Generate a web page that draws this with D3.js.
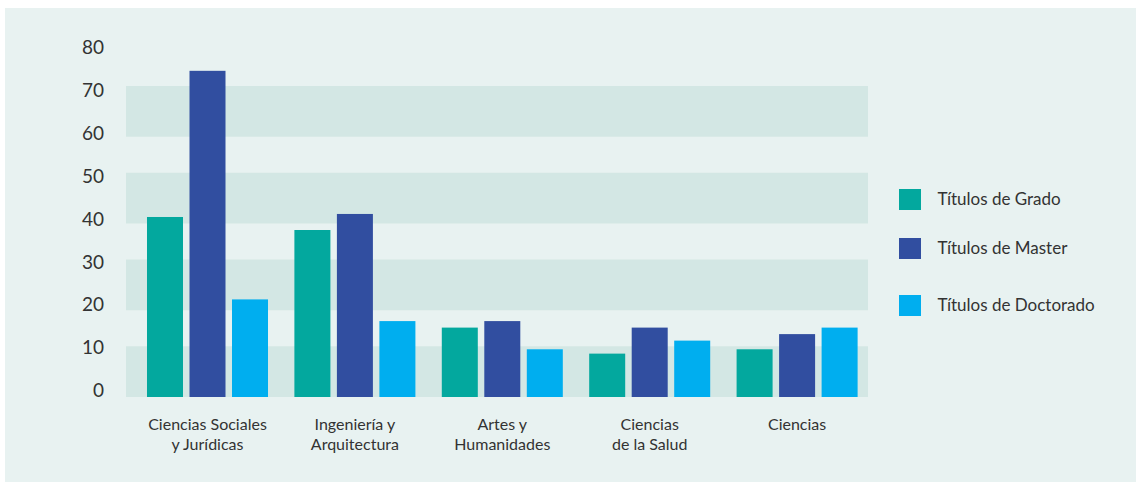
<!DOCTYPE html>
<html lang="es">
<head>
    <meta charset="UTF-8">
    <title>Títulos por rama</title>
    <script src="https://d3js.org/d3.v7.min.js"></script>
    <style>
        body {
            margin: 0;
            background: #ffffff;
        }
        svg text {
            font-family: Lato, "Open Sans", sans-serif;
            fill: #333333;
        }
    </style>
</head>
<body>

<div id="chart"></div>

<script>
    // data
    const categories = [
        ["Ciencias Sociales", "y Jurídicas"],
        ["Ingeniería y", "Arquitectura"],
        ["Artes y", "Humanidades"],
        ["Ciencias", "de la Salud"],
        ["Ciencias"]
    ];
    const series = ["Títulos de Grado", "Títulos de Master", "Títulos de Doctorado"];
    const grado = [41.5, 38.5, 16, 10, 11];
    const master = [75.2, 42.2, 17.5, 16, 14.5];
    const doctorado = [22.5, 17.5, 11, 13, 16];
    const yTicks = [0, 10, 20, 30, 40, 50, 60, 70, 80];
    const bandStarts = [0, 20, 40, 60];
    const bandSpan = 11.7;

    const colors = ["#03a89e", "#314ea0", "#00aeef"];
    const values = [grado, master, doctorado];

    const width = 1136, height = 482;

    const svg = d3.select("#chart").append("svg")
        .attr("width", width)
        .attr("height", height);

    // panel background
    svg.append("rect")
        .attr("x", 5).attr("y", 8)
        .attr("width", width - 5).attr("height", height - 8)
        .attr("fill", "#e8f2f1");

    const y = d3.scaleLinear().domain([0, 80]).range([397, 50]);

    const x0 = d3.scaleBand()
        .domain(d3.range(categories.length))
        .range([133.8, 870.8])
        .paddingInner(0.179)
        .paddingOuter(0.0895);

    const x1 = d3.scaleBand()
        .domain(d3.range(series.length))
        .range([0, x0.bandwidth()])
        .paddingInner(0.153);

    // shaded bands
    svg.append("g").selectAll("rect")
        .data(bandStarts)
        .join("rect")
        .attr("x", 126)
        .attr("width", 868 - 126)
        .attr("y", d => y(d + bandSpan))
        .attr("height", d => y(d) - y(d + bandSpan))
        .attr("fill", "#d3e7e4");

    // y axis, labels only
    const yAxis = svg.append("g")
        .attr("transform", "translate(104,0)")
        .call(d3.axisLeft(y).tickValues(yTicks).tickSize(0).tickPadding(0));
    yAxis.select(".domain").remove();
    yAxis.selectAll("text")
        .attr("dy", "0.35em")
        .attr("transform", d => `translate(0,${-7 + d * 0.05})`)
        .style("font-size", "19px")
        .attr("fill", "#333333");

    // bars
    const groups = svg.append("g").selectAll("g")
        .data(categories.map((c, i) => i))
        .join("g")
        .attr("transform", i => `translate(${x0(i)},0)`);

    groups.selectAll("rect")
        .data(i => values.map((v, s) => ({ s: s, v: v[i] })))
        .join("rect")
        .attr("x", d => x1(d.s))
        .attr("width", x1.bandwidth())
        .attr("y", d => y(d.v))
        .attr("height", d => y(0) - y(d.v))
        .attr("fill", d => colors[d.s]);

    // category labels, one text per line
    const lines = [];
    categories.forEach((c, i) => c.forEach((t, j) => lines.push({ i: i, j: j, t: t })));

    svg.append("g").selectAll("text")
        .data(lines)
        .join("text")
        .attr("text-anchor", "middle")
        .attr("x", d => x0(d.i) + x0.bandwidth() / 2)
        .attr("y", d => 430 + d.j * 19.5)
        .style("font-size", "16px")
        .text(d => d.t);

    // legend
    const legend = svg.append("g").selectAll("g")
        .data(series)
        .join("g")
        .attr("transform", (d, i) => `translate(899,${[189, 238, 295][i]})`);

    legend.append("rect")
        .attr("width", 22)
        .attr("height", 21)
        .attr("fill", (d, i) => colors[i]);

    legend.append("text")
        .attr("x", 38.5)
        .attr("y", 10.5)
        .attr("dy", "0.35em")
        .style("font-size", "17px")
        .text(d => d);
</script>

</body>
</html>
